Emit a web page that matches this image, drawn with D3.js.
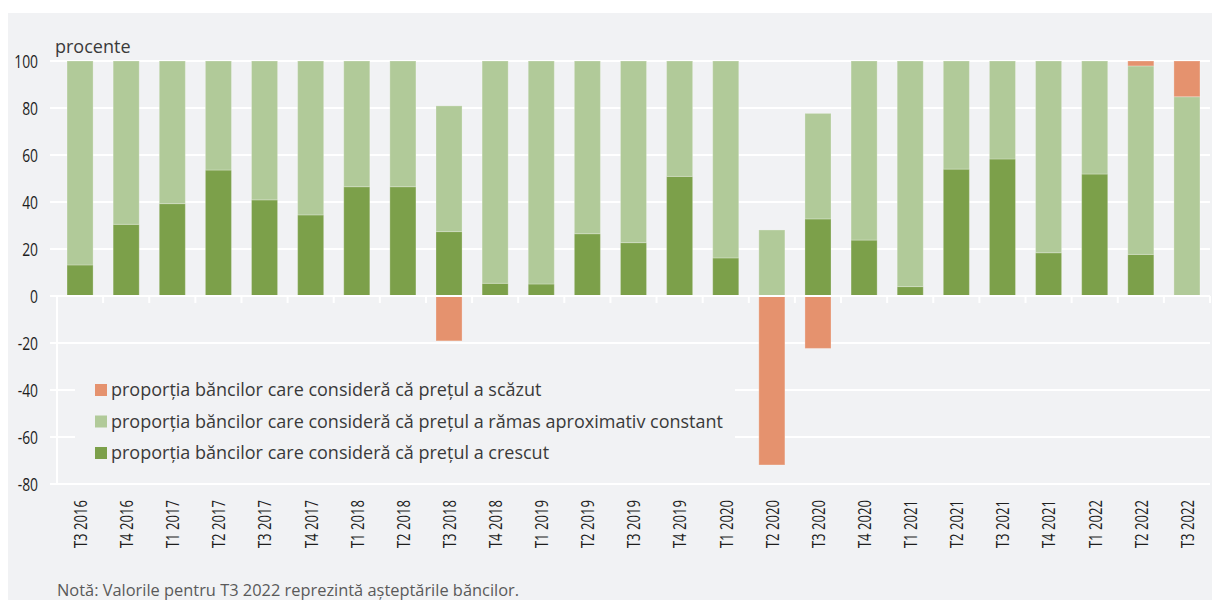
<!DOCTYPE html>
<html>
<head>
<meta charset="utf-8">
<script src="https://cdn.jsdelivr.net/npm/d3@7"></script>
<style>
  body { margin: 0; background: #fff; }
  svg { display: block; }
  .txt, .cond { font-family: "Open Sans", "Noto Sans", sans-serif; }
</style>
</head>
<body>
<svg id="chart" width="1212" height="600"></svg>
<script>
var quarters = ['T3 2016', 'T4 2016', 'T1 2017', 'T2 2017', 'T3 2017', 'T4 2017', 'T1 2018', 'T2 2018',
  'T3 2018', 'T4 2018', 'T1 2019', 'T2 2019', 'T3 2019', 'T4 2019', 'T1 2020', 'T2 2020', 'T3 2020',
  'T4 2020', 'T1 2021', 'T2 2021', 'T3 2021', 'T4 2021', 'T1 2022', 'T2 2022', 'T3 2022'];

// proportia bancilor care considera ca pretul a crescut
var crescut = [13.2, 30.5, 39.3, 53.6, 40.9, 34.5, 46.5, 46.5, 27.4, 5.4, 5.1, 26.5, 22.7,
  50.9, 16.2, 0, 32.8, 23.8, 4.0, 54.0, 58.3, 18.4, 51.9, 17.7, 0];
// ... a ramas aproximativ constant
var constant = [86.8, 69.5, 60.7, 46.4, 59.1, 65.5, 53.5, 53.5, 53.5, 94.6, 94.9, 73.5, 77.3,
  49.1, 83.8, 28.1, 44.9, 76.2, 96.0, 46.0, 41.7, 81.6, 48.1, 80.2, 84.8];
// ... a scazut
var scazut = [0, 0, 0, 0, 0, 0, 0, 0, -19.1, 0, 0, 0, 0,
  0, 0, -71.9, -22.3, 0, 0, 0, 0, 0, 0, 2.1, 15.2];

var yTicks = [100, 80, 60, 40, 20, 0, -20, -40, -60, -80];

var seriesNames = {
  crescut: 'proporția băncilor care consideră că prețul a crescut',
  constant: 'proporția băncilor care consideră că prețul a rămas aproximativ constant',
  scazut: 'proporția băncilor care consideră că prețul a scăzut'
};
var colors = {crescut: '#7ca04a', constant: '#b1ca99', scazut: '#e5926e'};

var svg = d3.select('#chart');
var margin = {left: 57, right: 2, top: 61, bottom: 116};
var width = 1212 - margin.left - margin.right;
var height = 600 - margin.top - margin.bottom;

// squeeze text horizontally, like a condensed face
function condense(sel, k) {
  sel.each(function() {
    var len = this.getComputedTextLength();
    d3.select(this)
      .attr('textLength', len * k)
      .attr('lengthAdjust', 'spacingAndGlyphs');
  });
}

// panel background
svg.append('rect')
  .attr('x', 8).attr('y', 13)
  .attr('width', 1204).attr('height', 587)
  .attr('fill', '#f1f2f4');

var g = svg.append('g').attr('transform', 'translate(' + margin.left + ',' + margin.top + ')');

var rows = quarters.map(function(q, i) {
  return {q: q, crescut: crescut[i], constant: constant[i], scazut: scazut[i]};
});

var x = d3.scaleBand().domain(quarters).range([0, width]).paddingInner(0.435).paddingOuter(0.2175);
var y = d3.scaleLinear().domain([-80, 100]).range([height, 0]);

// grid lines
g.append('g')
  .selectAll('line')
  .data(yTicks)
  .enter().append('line')
  .attr('x1', -7).attr('x2', width)
  .attr('y1', function(d) { return y(d); })
  .attr('y2', function(d) { return y(d); })
  .attr('stroke', '#fff')
  .attr('stroke-width', 2);

// left axis line below zero
g.append('line')
  .attr('x1', 0).attr('x2', 0)
  .attr('y1', y(0)).attr('y2', y(-80))
  .attr('stroke', '#fff').attr('stroke-width', 2);

// y labels
g.append('g')
  .selectAll('text')
  .data(yTicks)
  .enter().append('text')
  .attr('class', 'cond')
  .attr('x', -19)
  .attr('y', function(d) { return y(d); })
  .attr('dy', '0.36em')
  .attr('text-anchor', 'end')
  .attr('font-size', 18.5)
  .attr('fill', '#1e1e1e')
  .text(function(d) { return d; })
  .call(condense, 0.75);

// legend box hides the grid behind it
g.append('rect')
  .attr('x', 18).attr('y', 300)
  .attr('width', 660).attr('height', 105)
  .attr('fill', '#f1f2f4');

// bars
var stack = d3.stack()
  .keys(['crescut', 'constant', 'scazut'])
  .offset(d3.stackOffsetDiverging);

var layers = g.append('g').selectAll('g')
  .data(stack(rows))
  .enter().append('g')
  .attr('fill', function(d) { return colors[d.key]; });

layers.selectAll('rect')
  .data(function(d) { return d; })
  .enter().append('rect')
  .attr('x', function(d) { return x(d.data.q); })
  .attr('width', x.bandwidth())
  .attr('y', function(d) { return y(Math.max(d[0], d[1])); })
  .attr('height', function(d) { return Math.abs(y(d[0]) - y(d[1])); })
  .attr('stroke', 'rgba(255,255,255,0.25)')
  .attr('stroke-width', 1);

// zero line and category ticks
g.append('line')
  .attr('x1', -7).attr('x2', width)
  .attr('y1', y(0)).attr('y2', y(0))
  .attr('stroke', '#fff').attr('stroke-width', 2);

g.append('g')
  .selectAll('line')
  .data(d3.range(quarters.length + 1))
  .enter().append('line')
  .attr('x1', function(i) { return i * width / quarters.length; })
  .attr('x2', function(i) { return i * width / quarters.length; })
  .attr('y1', y(0)).attr('y2', y(0) + 7)
  .attr('stroke', '#fff').attr('stroke-width', 2);

// x labels
g.append('g')
  .selectAll('text')
  .data(quarters)
  .enter().append('text')
  .attr('class', 'cond')
  .attr('transform', function(d) {
    return 'translate(' + (x(d) + x.bandwidth() / 2) + ',' + (y(-80) + 16) + ') rotate(-90)';
  })
  .attr('dy', '0.36em')
  .attr('text-anchor', 'end')
  .attr('font-size', 19)
  .attr('fill', '#1e1e1e')
  .text(function(d) { return d; })
  .call(condense, 0.69);

// legend
var legendKeys = ['scazut', 'constant', 'crescut'];
var legend = g.append('g')
  .selectAll('g')
  .data(legendKeys)
  .enter().append('g')
  .attr('transform', function(d, i) { return 'translate(38,' + (329 + i * 31.5) + ')'; });

legend.append('rect')
  .attr('x', 0).attr('y', -6)
  .attr('width', 12).attr('height', 12)
  .attr('fill', function(d) { return colors[d]; });

legend.append('text')
  .attr('class', 'txt')
  .attr('x', 16)
  .attr('dy', '0.35em')
  .attr('font-size', 18)
  .attr('fill', '#3a3a3a')
  .text(function(d) { return seriesNames[d]; });

// unit label
svg.append('text')
  .attr('class', 'txt')
  .attr('x', 55).attr('y', 53)
  .attr('font-size', 18)
  .attr('fill', '#3a3a3a')
  .text('procente');

// note
svg.append('text')
  .attr('class', 'txt')
  .attr('x', 57).attr('y', 596)
  .attr('font-size', 16.4)
  .attr('fill', '#5a5a5a')
  .text('Notă: Valorile pentru T3 2022 reprezintă așteptările băncilor.');
</script>
</body>
</html>
